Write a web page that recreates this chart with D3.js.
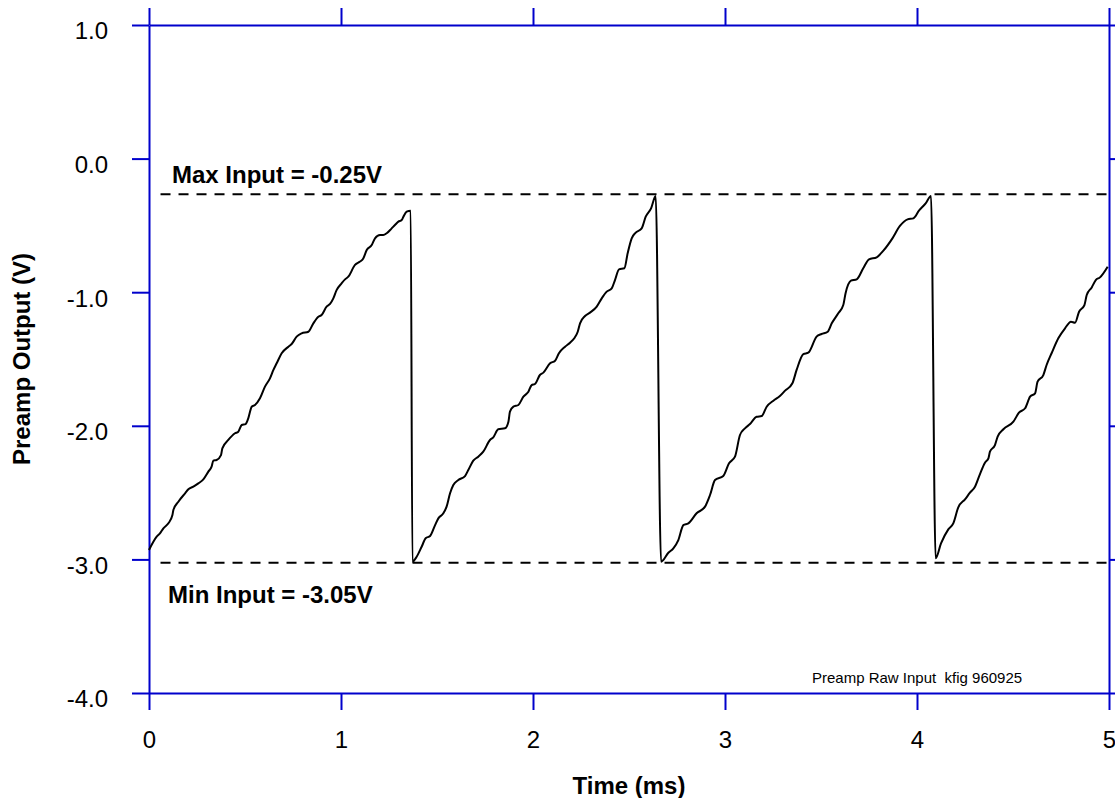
<!DOCTYPE html>
<html>
<head>
<meta charset="utf-8">
<script src="https://cdn.jsdelivr.net/npm/d3@7"></script>
<style>
  body { margin: 0; background: #fff; }
  svg { display: block; }
</style>
</head>
<body>
<script>
// data
var timeMs = [
  0.000,0.040,0.057,0.075,0.101,0.122,0.127,0.153,0.188,0.205,0.231,0.257,0.283,0.309,0.326,0.335,
  0.352,0.375,0.382,0.413,0.448,0.465,0.483,0.503,0.517,0.535,0.552,0.578,0.604,0.630,0.648,0.665,
  0.691,0.726,0.743,0.769,0.795,0.830,0.856,0.882,0.899,0.925,0.943,0.960,0.977,1.003,1.021,1.038,
  1.073,1.099,1.116,1.134,1.160,1.177,1.203,1.220,1.238,1.264,1.281,1.299,1.316,1.325,1.342,1.363,
  1.372,1.394,1.420,1.441,1.464,1.490,1.507,1.533,1.550,1.568,1.585,1.611,1.646,1.663,1.689,1.715,
  1.741,1.776,1.793,1.819,1.854,1.872,1.880,1.898,1.924,1.950,1.976,1.993,2.010,2.036,2.054,2.089,
  2.115,2.135,2.167,2.193,2.215,2.233,2.245,2.271,2.297,2.332,2.358,2.384,2.410,2.427,2.448,2.476,
  2.493,2.514,2.535,2.566,2.587,2.615,2.639,
  2.667,2.705,2.731,2.757,2.783,2.809,2.852,2.896,2.922,2.948,2.991,3.021,3.052,3.078,3.104,3.130,
  3.165,3.191,3.217,3.252,3.286,3.313,3.351,3.373,3.408,3.434,3.477,3.503,3.535,3.556,3.590,3.616,
  3.628,3.656,3.686,3.720,3.750,3.790,3.825,3.872,3.911,3.951,3.981,4.010,4.045,4.073,
  4.097,4.125,4.163,4.189,4.215,4.250,4.276,4.302,4.328,4.354,4.372,4.380,4.406,4.420,4.450,4.502,
  4.531,4.563,4.589,4.615,4.628,4.658,4.675,4.701,4.736,4.771,4.802,4.823,4.844,4.872,4.884,4.910,
  4.931,4.953,4.993
];
var outputV = [
  -2.930,-2.830,-2.805,-2.767,-2.730,-2.668,-2.630,-2.568,-2.505,-2.475,-2.456,-2.431,-2.401,-2.343,-2.306,-2.261,
  -2.256,-2.219,-2.169,-2.106,-2.056,-2.044,-1.994,-1.987,-1.944,-1.857,-1.844,-1.794,-1.707,-1.645,-1.582,-1.532,
  -1.457,-1.408,-1.388,-1.333,-1.308,-1.296,-1.233,-1.183,-1.171,-1.108,-1.088,-1.046,-0.984,-0.934,-0.904,-0.884,
  -0.796,-0.771,-0.747,-0.684,-0.647,-0.597,-0.572,-0.572,-0.559,-0.522,-0.497,-0.472,-0.460,-0.435,-0.397,-0.390,
  -3.017,-2.980,-2.905,-2.842,-2.825,-2.743,-2.693,-2.655,-2.605,-2.505,-2.443,-2.406,-2.376,-2.331,-2.261,-2.231,
  -2.194,-2.106,-2.086,-2.026,-2.019,-1.969,-1.894,-1.857,-1.844,-1.782,-1.745,-1.695,-1.687,-1.620,-1.602,-1.532,
  -1.513,-1.457,-1.408,-1.378,-1.345,-1.296,-1.233,-1.178,-1.153,-1.108,-1.046,-0.996,-0.971,-0.909,-0.829,-0.821,
  -0.709,-0.597,-0.554,-0.522,-0.435,-0.372,-0.280,
  -3.017,-2.950,-2.917,-2.855,-2.743,-2.730,-2.655,-2.605,-2.518,-2.406,-2.376,-2.281,-2.231,-2.069,-2.019,-1.987,
  -1.932,-1.927,-1.857,-1.812,-1.777,-1.737,-1.682,-1.582,-1.463,-1.453,-1.333,-1.313,-1.296,-1.233,-1.158,-1.096,
  -1.008,-0.914,-0.904,-0.821,-0.754,-0.739,-0.689,-0.597,-0.504,-0.455,-0.447,-0.390,-0.335,-0.280,
  -2.992,-2.880,-2.775,-2.730,-2.610,-2.550,-2.501,-2.456,-2.361,-2.276,-2.243,-2.194,-2.144,-2.081,-2.026,-1.969,
  -1.902,-1.869,-1.782,-1.757,-1.670,-1.620,-1.545,-1.457,-1.345,-1.270,-1.221,-1.228,-1.146,-1.096,-1.021,-0.964,
  -0.909,-0.889,-0.809
];

var xTicks = [0, 1, 2, 3, 4, 5];
var yTicks = [1, 0, -1, -2, -3, -4];

// dashed limit lines
var limitNames = ["Max Input = -0.25V", "Min Input = -3.05V"];
var limitValues = [-0.267, -3.025];
var limitStart = 0.06;

var footNote = "Preamp Raw Input  kfig 960925";

var width = 1115, height = 798;
var blue = "#0000cc";
var font = "'Liberation Sans', Arial, Helvetica, sans-serif";

var svg = d3.select("body").append("svg")
    .attr("width", width)
    .attr("height", height);

var x = d3.scaleLinear().domain([0, 5]).range([149, 1109]);
var y = d3.scaleLinear().domain([-4, 1]).range([693, 25]);

var styleAxis = function(g) {
    g.attr("font-family", font).attr("font-size", 24);
    g.selectAll("path, line").attr("stroke", blue).attr("stroke-width", 2);
    g.selectAll("text").attr("fill", "#000");
};

//axes on all four sides, ticks pointing out
svg.append("g")
   .attr("transform", "translate(0," + y(-4) + ")")
   .call(d3.axisBottom(x).tickValues(xTicks).tickSize(17).tickSizeOuter(0).tickPadding(21)
        .tickFormat(function(d) { return d; }))
   .call(styleAxis);

svg.append("g")
   .attr("transform", "translate(0," + y(1) + ")")
   .call(d3.axisTop(x).tickValues(xTicks).tickSize(17).tickSizeOuter(0).tickFormat(""))
   .call(styleAxis);

var yAxisG = svg.append("g")
   .attr("transform", "translate(" + x(0) + ",0)")
   .call(d3.axisLeft(y).tickValues(yTicks).tickSize(17).tickSizeOuter(0).tickPadding(24)
        .tickFormat(function(d) { return d.toFixed(1); }))
   .call(styleAxis);
yAxisG.selectAll("text").attr("dy", "0.58em");

svg.append("g")
   .attr("transform", "translate(" + x(5) + ",0)")
   .call(d3.axisRight(y).tickValues(yTicks).tickSize(17).tickSizeOuter(0).tickFormat(""))
   .call(styleAxis);

//limit lines
svg.selectAll("line.limit")
   .data(limitValues).enter()
   .append("line")
   .attr("class", "limit")
   .attr("x1", x(limitStart))
   .attr("x2", x(5))
   .attr("y1", function(d) { return y(d); })
   .attr("y2", function(d) { return y(d); })
   .attr("stroke", "#000")
   .attr("stroke-width", 1.8)
   .attr("stroke-dasharray", "10,8");

//trace
var points = timeMs.map(function(t, i) { return [t, outputV[i]]; });
var line = d3.line()
    .x(function(d) { return x(d[0]); })
    .y(function(d) { return y(d[1]); })
    .curve(d3.curveMonotoneX);

svg.append("path")
   .datum(points)
   .attr("d", line)
   .attr("fill", "none")
   .attr("stroke", "#000")
   .attr("stroke-width", 2)
   .attr("stroke-linejoin", "round");

//labels
svg.append("text")
   .attr("x", 172).attr("y", y(limitValues[0]) - 11)
   .attr("font-family", font).attr("font-size", 24).attr("font-weight", "bold")
   .text(limitNames[0]);

svg.append("text")
   .attr("x", 168).attr("y", y(limitValues[1]) + 40)
   .attr("font-family", font).attr("font-size", 24).attr("font-weight", "bold")
   .text(limitNames[1]);

svg.append("text")
   .attr("x", 812).attr("y", 683)
   .attr("font-family", font).attr("font-size", 15)
   .style("white-space", "pre")
   .text(footNote);

svg.append("text")
   .attr("x", (x(0) + x(5)) / 2).attr("y", 794)
   .attr("text-anchor", "middle")
   .attr("font-family", font).attr("font-size", 24).attr("font-weight", "bold")
   .text("Time (ms)");

svg.append("text")
   .attr("transform", "translate(30," + (y(1) + y(-4)) / 2 + ") rotate(-90)")
   .attr("text-anchor", "middle")
   .attr("font-family", font).attr("font-size", 24).attr("font-weight", "bold")
   .text("Preamp Output (V)");
</script>
</body>
</html>
